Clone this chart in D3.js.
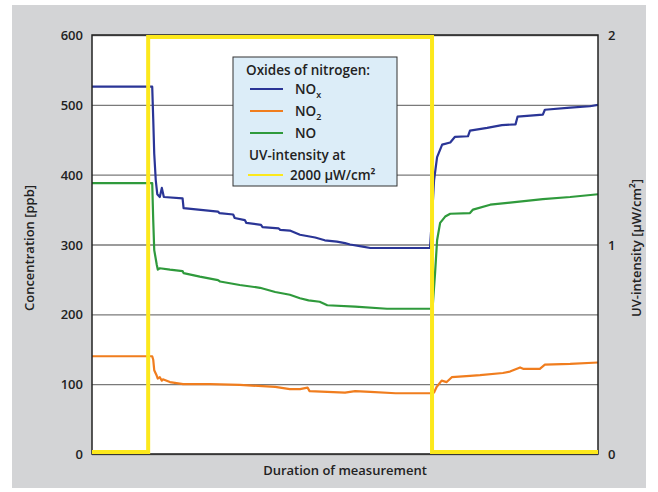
<!DOCTYPE html>
<html>
<head>
<meta charset="utf-8">
<script src="https://cdn.jsdelivr.net/npm/d3@7"></script>
<style>
	body{margin:0;background:#fff;}
	text{font-family:'Open Sans',sans-serif;font-weight:600;fill:#222;}
</style>
</head>
<body>
<svg id="chart" width="658" height="492"></svg>
<script>
// concentration ticks (left) and uv ticks (right)
const concTicks = [0,100,200,300,400,500,600]
const uvTicks = [0,1,2]

// time in % of the measurement duration
const noxTime = [0,11.9,12.1,12.3,12.6,12.9,13.4,13.8,14.2,17.9,18.1,24.9,25.2,27.9,28.2,30.2,30.5,33.4,33.7,36.9,37.2,39.1,41.1,44.1,46.0,48.4,50.0,51.0,53.5,55.0,66.8,67.2,67.6,68.2,69.2,70.8,71.7,74.3,74.7,78.1,81.0,83.7,84.1,89.1,89.5,94.5,98.4,100]
const noxValue = [526,526,480,430,392,372,368,381,368,366,352,347,345,343,338,335,331,328,325,323,321,320,314,310,306,304,302,300,297,295,295,340,392,425,443,446,454,455,463,467,471,472,483,486,493,496,498,500]

const noTime = [0,11.9,12.1,12.3,12.8,13.0,13.4,15.4,17.9,18.1,21.3,24.9,25.3,29.2,33.2,36.2,39.1,41.1,42.8,45.0,46.5,52.0,58.3,67.3,67.8,68.2,68.8,69.8,70.8,74.7,75.3,78.7,82.6,89.1,94.5,100]
const noValue = [388,388,335,292,271,264,266,264,262,259,254,249,247,242,238,232,228,223,220,218,213,211,208,208,259,306,331,340,344,345,350,357,360,365,368,372]

const no2Time = [0,11.9,12.1,12.3,12.8,13.0,13.4,13.8,14.0,15.4,18.0,23.3,29.2,36.2,39.1,41.1,42.6,43.0,50.0,52.0,55.0,60.0,67.0,67.6,68.1,69.1,70.1,71.1,74.7,76.7,81.2,82.6,84.6,85.2,88.5,89.5,94.5,100]
const no2Value = [140,140,135,120,112,108,110,105,107,103,100,100,99,96,93,93,95,90,88,90,89,87,87,88,96,105,103,110,112,113,116,118,124,122,122,128,129,131]

const uvTime = [0,11.1,11.1,67.2,67.2,100]
const uvValue = [0,0,2,2,0,0]

const margin = {top:35,right:60,bottom:38,left:92}
const width = 598 - margin.left
const height = 454 - margin.top

const svg = d3.select('#chart')

// grey page panel
svg.append('rect')
	.attr('x',12).attr('y',5)
	.attr('width',634).attr('height',483)
	.attr('fill','#d3d4d6')

const chart = svg.append('g')
	.attr('transform',`translate(${margin.left},${margin.top})`)

chart.append('rect')
	.attr('width',width)
	.attr('height',height)
	.attr('fill','#fff')

const xScale = d3.scaleLinear().domain([0,100]).range([0,width])
const yScale = d3.scaleLinear().domain([0,600]).range([height,0])
const uvScale = d3.scaleLinear().domain([0,2]).range([height-2,2])
const uvAxisScale = d3.scaleLinear().domain([0,2]).range([height,0])

// gridlines
chart.append('g')
	.call(d3.axisLeft(yScale).tickValues(concTicks).tickSize(-width).tickFormat(''))
	.call(g=>g.select('.domain').remove())
	.call(g=>g.selectAll('line').attr('stroke','#7a7a7a').attr('stroke-width',1.3))

const lineOf = (t,v,s)=>d3.line()
	.x((d,i)=>xScale(t[i]))
	.y((d,i)=>s(v[i]))(v)

const series = [
	{t:no2Time,v:no2Value,c:'#f07d1e'},
	{t:noTime,v:noValue,c:'#2f9a3c'},
	{t:noxTime,v:noxValue,c:'#2a3596'}
]

series.forEach(s=>{
	chart.append('path')
		.attr('d',lineOf(s.t,s.v,yScale))
		.attr('fill','none')
		.attr('stroke',s.c)
		.attr('stroke-width',2.2)
		.attr('stroke-linejoin','round')
})

// frame
chart.append('rect')
	.attr('width',width)
	.attr('height',height)
	.attr('fill','none')
	.attr('stroke','#222')
	.attr('stroke-width',1.5)

// UV intensity
chart.append('path')
	.attr('d',lineOf(uvTime,uvValue,uvScale))
	.attr('fill','none')
	.attr('stroke','#fce81c')
	.attr('stroke-width',4)

// axes labels
const axL = chart.append('g')
	.call(d3.axisLeft(yScale).tickValues(concTicks).tickSize(0).tickPadding(9))
axL.select('.domain').remove()
axL.selectAll('text').attr('font-size',13).attr('dy','0.35em').attr('font-family',null).attr('fill','#222')

const axR = chart.append('g')
	.attr('transform',`translate(${width},0)`)
	.call(d3.axisRight(uvAxisScale).tickValues(uvTicks).tickSize(0).tickPadding(10).tickFormat(d3.format('d')))
axR.select('.domain').remove()
axR.selectAll('text').attr('font-size',13).attr('dy','0.35em').attr('font-family',null).attr('fill','#222')

svg.append('text')
	.attr('transform','translate(34,248) rotate(-90)')
	.attr('text-anchor','middle')
	.attr('font-size',13)
	.text('Concentration [ppb]')

svg.append('text')
	.attr('transform','translate(641,248) rotate(-90)')
	.attr('text-anchor','middle')
	.attr('font-size',13)
	.text('UV-intensity [µW/cm²]')

svg.append('text')
	.attr('x',345).attr('y',475)
	.attr('text-anchor','middle')
	.attr('font-size',13)
	.text('Duration of measurement')

// legend
const lg = svg.append('g')
lg.append('rect')
	.attr('x',233).attr('y',57)
	.attr('width',164).attr('height',129)
	.attr('fill','#dcedf8')
	.attr('stroke','#333')
	.attr('stroke-width',1)

lg.append('text').attr('x',246).attr('y',75).attr('font-size',13.5).text('Oxides of nitrogen:')

const items = [
	{name:'NO',sub:'x',c:'#2a3596',y:89},
	{name:'NO',sub:'2',c:'#f07d1e',y:111},
	{name:'NO',sub:'',c:'#2f9a3c',y:133}
]
items.forEach(d=>{
	lg.append('line')
		.attr('x1',250).attr('x2',283)
		.attr('y1',d.y).attr('y2',d.y)
		.attr('stroke',d.c).attr('stroke-width',1.8)
	const t = lg.append('text').attr('x',295).attr('y',d.y+5).attr('font-size',13.5).text(d.name)
	if(d.sub) t.append('tspan').attr('dy',4).attr('font-size',9).text(d.sub)
})

lg.append('text').attr('x',249).attr('y',160).attr('font-size',13.5).text('UV-intensity  at')
lg.append('line')
	.attr('x1',248).attr('x2',283)
	.attr('y1',175).attr('y2',175)
	.attr('stroke','#fce81c').attr('stroke-width',1.8)
lg.append('text').attr('x',290).attr('y',180).attr('font-size',13.5).text('2000 µW/cm²')
</script>
</body>
</html>
